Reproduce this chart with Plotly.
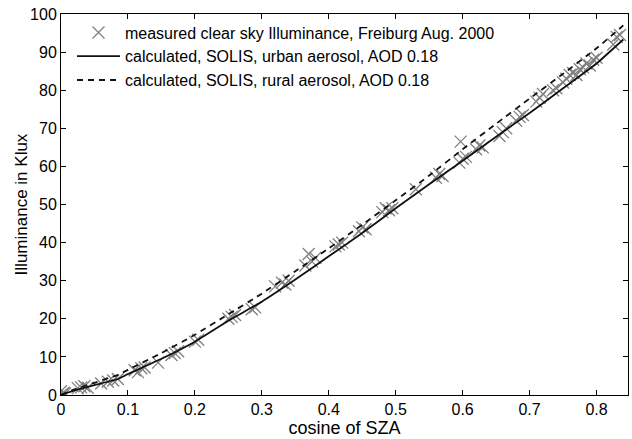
import plotly.graph_objects as go

# measured clear sky illuminance (cosine of SZA, klux)
meas_x = [0.0, 0.002, 0.004, 0.006, 0.0, 0.025, 0.03, 0.035, 0.04, 0.06, 0.07, 0.078, 0.085,
          0.11, 0.115, 0.12, 0.125, 0.145, 0.165, 0.17, 0.175, 0.2, 0.205,
          0.25, 0.255, 0.26, 0.285, 0.29, 0.32, 0.33, 0.335, 0.34,
          0.365, 0.37, 0.375, 0.38, 0.41, 0.415, 0.42, 0.445, 0.45, 0.455,
          0.48, 0.485, 0.49, 0.495, 0.53, 0.56, 0.565, 0.57,
          0.595, 0.597, 0.6, 0.605, 0.62, 0.625, 0.63, 0.655, 0.66, 0.665,
          0.68, 0.685, 0.69, 0.71, 0.715, 0.72, 0.735, 0.74,
          0.75, 0.755, 0.76, 0.765, 0.77, 0.775, 0.78, 0.785, 0.79, 0.795, 0.8,
          0.825, 0.83, 0.835]
meas_y = [0.0, 0.3, 0.6, 0.4, 1.0, 1.8, 2.0, 2.3, 1.9, 3.0, 3.5, 3.8, 4.2,
          6.5, 6.0, 7.0, 7.2, 8.5, 10.5, 11.0, 11.5, 14.0, 14.5,
          20.0, 20.5, 21.0, 22.5, 23.0, 28.5, 29.5, 29.0, 30.0,
          34.0, 37.0, 35.0, 36.0, 39.0, 39.5, 40.0, 43.0, 44.0, 43.5,
          48.0, 49.0, 48.5, 49.0, 54.0, 57.0, 58.0, 57.5,
          61.0, 66.5, 62.0, 62.5, 64.5, 65.5, 65.0, 68.0, 69.0, 70.0,
          72.0, 73.0, 73.5, 77.0, 78.0, 79.0, 80.0, 80.5,
          82.0, 83.0, 84.0, 84.5, 84.0, 85.5, 86.0, 87.0, 86.5, 88.0, 88.5,
          92.0, 94.0, 94.5]

# SOLIS calculation, urban aerosol
urban_x = [0.0, 0.02, 0.05, 0.085, 0.1, 0.15, 0.2, 0.25, 0.3, 0.35, 0.4, 0.45, 0.5,
           0.55, 0.6, 0.65, 0.7, 0.75, 0.8, 0.84]
urban_y = [0.0, 1.2, 2.6, 4.2, 5.5, 9.5, 14.0, 19.5, 24.5, 30.3, 36.4, 42.5, 49.0,
           55.3, 61.5, 67.8, 74.0, 80.5, 87.0, 93.3]

# SOLIS calculation, rural aerosol
rural_x = [0.0, 0.02, 0.05, 0.085, 0.1, 0.15, 0.2, 0.25, 0.3, 0.35, 0.4, 0.45, 0.5,
           0.55, 0.6, 0.65, 0.7, 0.75, 0.8, 0.84]
rural_y = [0.0, 1.5, 3.2, 5.3, 6.6, 11.0, 15.8, 21.2, 26.6, 32.5, 38.5, 44.7, 51.1,
           57.6, 64.5, 71.2, 77.8, 84.3, 91.0, 97.0]

x_ticks = [0, 0.1, 0.2, 0.3, 0.4, 0.5, 0.6, 0.7, 0.8]
x_tick_text = ["0", "0.1", "0.2", "0.3", "0.4", "0.5", "0.6", "0.7", "0.8"]
y_ticks = [0, 10, 20, 30, 40, 50, 60, 70, 80, 90, 100]

FONT = "Liberation Sans, Arial, sans-serif"

fig = go.Figure()
fig.add_trace(go.Scatter(
    x=meas_x, y=meas_y, mode="markers",
    name="measured clear sky Illuminance, Freiburg Aug. 2000",
    marker=dict(symbol="x-thin", size=12, color="#808080",
                line=dict(color="#808080", width=1.3)),
))
fig.add_trace(go.Scatter(
    x=urban_x, y=urban_y, mode="lines",
    name="calculated, SOLIS, urban aerosol, AOD 0.18",
    line=dict(color="#111111", width=1.8, shape="spline", smoothing=0.4),
))
fig.add_trace(go.Scatter(
    x=rural_x, y=rural_y, mode="lines",
    name="calculated, SOLIS, rural aerosol, AOD 0.18",
    line=dict(color="#111111", width=1.8, dash="6px,5px", shape="spline", smoothing=0.4),
))

axis_common = dict(
    showline=True, linecolor="black", linewidth=1, mirror="ticks",
    ticks="inside", ticklen=5, tickcolor="black", tickwidth=1,
    showgrid=False, zeroline=False,
    tickfont=dict(family=FONT, size=16, color="black"),
)

fig.update_xaxes(range=[0, 0.847], tickvals=x_ticks, ticktext=x_tick_text,
                 title=dict(text="cosine of SZA", font=dict(family=FONT, size=18, color="black"),
                            standoff=0),
                 **axis_common)
fig.update_yaxes(range=[0, 100], tickvals=y_ticks, **axis_common)

fig.add_annotation(
    text="Illuminance in Klux", textangle=-90,
    xref="paper", yref="paper", x=-0.069, y=0.5,
    xanchor="center", yanchor="middle", showarrow=False,
    font=dict(family=FONT, size=17, color="black"),
)

fig.update_layout(
    width=632, height=439,
    margin=dict(l=61, r=4, t=14, b=44, autoexpand=False),
    paper_bgcolor="white", plot_bgcolor="white",
    font=dict(family=FONT, color="black"),
    legend=dict(x=0.0194, y=0.996, xanchor="left", yanchor="top",
                bgcolor="rgba(0,0,0,0)", font=dict(family=FONT, size=16, color="black"),
                itemwidth=43),
)

fig.write_html("out.html")
